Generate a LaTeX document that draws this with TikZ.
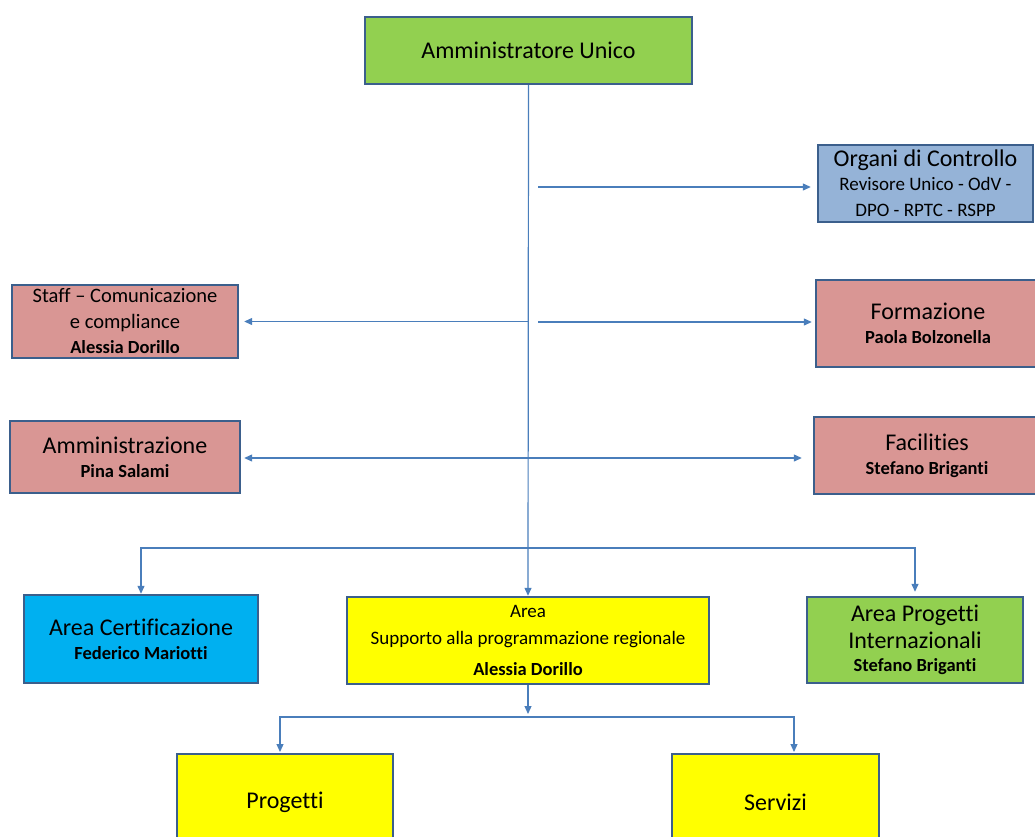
\documentclass[tikz,border=0pt]{standalone}
\usepackage{fontspec}
\setmainfont{Carlito}[Ligatures=NoCommon]
\usetikzlibrary{arrows.meta}
\definecolor{verde}{HTML}{92D050}
\definecolor{azzurro}{HTML}{95B3D7}
\definecolor{rosa}{HTML}{D99694}
\definecolor{ciano}{HTML}{00B0F0}
\definecolor{giallo}{HTML}{FFFF00}
\definecolor{bordo}{HTML}{3B5F8C}
\definecolor{linea}{HTML}{4A7EBB}
\newcommand\nome[1]{{\fontsize{18.5}{22}\selectfont\bfseries #1}}
\newcommand\sotto[1]{{\fontsize{19}{22}\selectfont #1}}

\begin{document}
\begin{tikzpicture}[x=1pt,y=-1pt,
  box/.style={draw=bordo, line width=2.4pt, align=center, inner sep=1pt,
    font=\fontsize{24}{27}\selectfont},
  freccia/.style={draw=linea, line width=1.2pt, -{Triangle[length=8pt,width=7pt]}},
  linea/.style={draw=linea, line width=1.2pt}]
\useasboundingbox (0,0) rectangle (1035,836);
\clip (0,0) rectangle (1035,836);

\node[box, fill=verde, minimum width=327, minimum height=67] (capo) at (528.5,50.5){Amministratore Unico};
\node[box, fill=azzurro, minimum width=215, minimum height=77] (organi) at (925.5,183.5){Organi di Controllo\\[-3pt] \sotto{Revisore Unico - OdV -}\\[-1pt] \sotto{DPO - RPTC - RSPP}};
\node[box, fill=rosa, minimum width=226, minimum height=73] (staff) at (125,321.5){\fontsize{20.5}{24}\selectfont Staff -- Comunicazione\\[-1pt] \fontsize{20.5}{24}\selectfont e compliance\\[-2pt] \nome{Alessia Dorillo}};
\node[box, fill=rosa, minimum width=224, minimum height=87] (formaz) at (928,323.5){Formazione\\[-3pt] \nome{Paola Bolzonella}};
\node[box, fill=rosa, minimum width=230, minimum height=72] (amm) at (125,457){Amministrazione\\[-3pt] \nome{Pina Salami}};
\node[box, fill=rosa, minimum width=226, minimum height=77] (facil) at (927,455.5){Facilities\\[-3pt] \nome{Stefano Briganti}};
\node[box, fill=ciano, minimum width=234, minimum height=88] (cert) at (141,639){Area Certificazione\\[-3pt] \nome{Federico Mariotti}};
\node[box, fill=giallo, minimum width=362, minimum height=87] (supp) at (528,640.5){\sotto{Area}\\ \sotto{Supporto alla programmazione regionale}\\[4pt] \nome{Alessia Dorillo}};
\node[box, fill=verde, minimum width=216, minimum height=86] (inter) at (915,640){Area Progetti\\ Internazionali\\[-4pt] \nome{Stefano Briganti}};
\node[box, fill=giallo, minimum width=216, minimum height=96] (prog) at (285,802){Progetti};
\node[box, fill=giallo, minimum width=207, minimum height=96] (serv) at (775.5,802){Servizi};

% tronco principale
\draw[freccia] (capo.south) -- (supp.north);
\coordinate (o1) at (538,187);
\draw[freccia, shorten >=6pt] (o1) -- (organi.west |- o1);
\coordinate (s1) at (capo.south |- staff.east);
\draw[freccia, shorten >=5pt] (s1) -- (staff.east);
\coordinate (f1) at (538,322);
\draw[freccia, shorten >=3pt] (f1) -- (formaz.west |- f1);
\draw[freccia, {Triangle[length=8pt,width=7pt]}-{Triangle[length=8pt,width=7pt]}, shorten <=3pt, shorten >=11pt] (amm.east |- 0,458) -- (facil.west |- 0,458);

% aree
\coordinate (b1) at (528,548);
\draw[freccia] (b1) -| (cert.north);
\draw[freccia, shorten >=4pt] (b1) -| (inter.north);

% sotto aree
\coordinate (c1) at (528,717);
\coordinate (p1) at (280,754);
\coordinate (v1) at (794,754);
\draw[freccia, shorten >=3pt] (supp.south) -- (c1);
\draw[freccia, shorten >=2pt] (c1) -| (p1);
\draw[freccia, shorten >=2pt] (c1) -| (v1);

\end{tikzpicture}
\end{document}
